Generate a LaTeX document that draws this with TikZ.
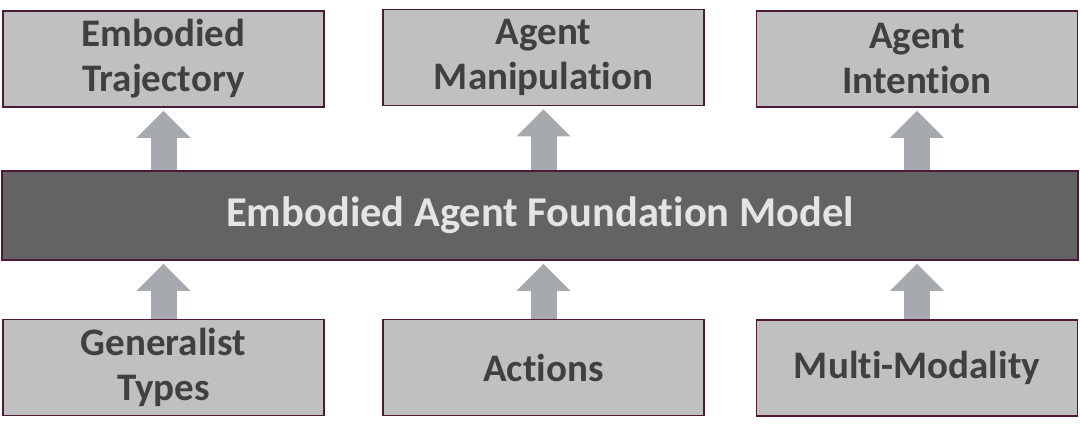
\documentclass[tikz,border=0pt]{standalone}
\usepackage{fontspec}
\setmainfont[Ligatures=NoCommon]{Carlito}
\usetikzlibrary{arrows.meta}
\definecolor{boxfill}{HTML}{C0C0C0}
\definecolor{boxline}{HTML}{4E1838}
\definecolor{barfill}{HTML}{636363}
\definecolor{txtdark}{HTML}{404040}
\definecolor{txtlight}{HTML}{E4E4E4}
\definecolor{arrowc}{HTML}{A6A9AE}
\tikzset{
  gbox/.style={draw=boxline, line width=1.6pt, fill=boxfill, minimum width=321pt, minimum height=96pt,
    inner sep=0pt, align=center, text=txtdark, font=\fontsize{39}{45}\selectfont\bfseries},
  bar/.style={draw=boxline, line width=1.6pt, fill=barfill, minimum width=1076pt, minimum height=89pt,
    inner sep=0pt, text=txtlight, font=\fontsize{42.5}{45}\selectfont\bfseries},
  bigarrow/.style={draw=arrowc, line width=26pt, -{Triangle[width=52pt,length=27pt]}, shorten >=3pt}
}
\begin{document}
\begin{tikzpicture}[x=1pt,y=-1pt]
\useasboundingbox (0,0) rectangle (1080,438);
\fill[white] (0,0) rectangle (1080,438);
\node[gbox] (t1) at (163.5,59) {Embodied\\Trajectory};
\node[gbox] (t2) at (543.5,57.5) {Agent\\Manipulation};
\node[gbox] (t3) at (917,59) {Agent\\Intention};
\node[bar] (m) at (540,215.5) {Embodied Agent Foundation Model};
\node[gbox] (b1) at (163.5,367.5) {Generalist\\Types};
\node[gbox] (b2) at (543.5,367.5) {Actions};
\node[gbox] (b3) at (917,368) {Multi-Modality};
\foreach \t in {t1,t2,t3}{
  \draw[bigarrow] (m.north -| \t.south) -- (\t.south);
}
\foreach \b in {b1,b2,b3}{
  \draw[bigarrow] (\b.north) -- (m.south -| \b.north);
}
\end{tikzpicture}
\end{document}
